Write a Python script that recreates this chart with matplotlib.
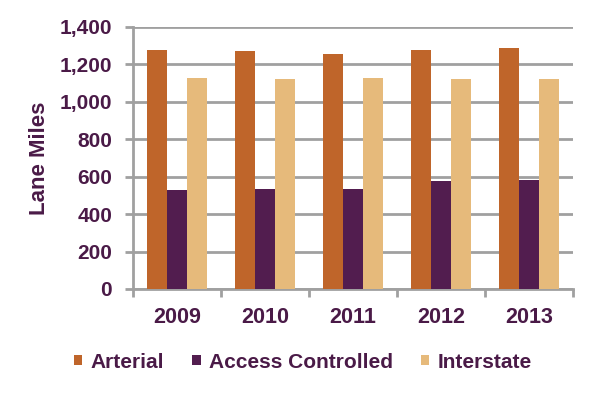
import numpy as np
import matplotlib.pyplot as plt

# data
years = ['2009', '2010', '2011', '2012', '2013']
arterial = [1277, 1271, 1256, 1277, 1288]
access_controlled = [529, 534, 534, 577, 582]
interstate = [1127, 1122, 1127, 1122, 1122]

series = [('Arterial', arterial, '#bf652a'),
          ('Access Controlled', access_controlled, '#521d4f'),
          ('Interstate', interstate, '#e6ba7b')]

txt = '#4a1a47'
grid = '#a0a0a0'
plt.rcParams['font.family'] = ['Liberation Sans', 'DejaVu Sans']
plt.rcParams['font.weight'] = 'bold'
plt.rcParams['axes.labelweight'] = 'bold'

fig = plt.figure(figsize=(6, 3.97), dpi=100)
ax = fig.add_axes([133/600, 108/397, 440/600, 262/397])

x = np.arange(len(years))
w = 0.227
for i, (name, vals, col) in enumerate(series):
    ax.bar(x + (i - 1) * w, vals, w, color=col, label=name, zorder=3)

ax.set_xlim(-0.5, len(years) - 0.5)
ax.set_ylim(0, 1400)
ax.set_yticks(range(0, 1401, 200))
ax.set_yticklabels([f'{v:,}' for v in range(0, 1401, 200)])
ax.yaxis.grid(True, color=grid, linewidth=2, zorder=0)

ax.set_xticks(np.arange(-0.5, len(years), 1))
ax.set_xticklabels([])
ax.set_xticks(x, minor=True)
ax.set_xticklabels(years, minor=True)
ax.tick_params(axis='x', which='minor', length=0, pad=13, labelsize=15.5, labelcolor=txt)
ax.tick_params(axis='x', which='major', length=6, width=2, color=grid, direction='out')
ax.tick_params(axis='y', length=6, width=2, color=grid, pad=9, labelsize=15, labelcolor=txt)

for s in ['top', 'right']:
    ax.spines[s].set_visible(False)
for s in ['left', 'bottom']:
    ax.spines[s].set_color(grid)
    ax.spines[s].set_linewidth(2)

ax.set_ylabel('Lane Miles', fontsize=16, color=txt, labelpad=7)

leg = fig.legend(loc='center', bbox_to_anchor=(303/600, 1 - 362/397), ncol=3, frameon=False,
                 fontsize=15, handlelength=0.4, handleheight=0.4, handletextpad=0.4,
                 columnspacing=1.35)
for t in leg.get_texts():
    t.set_color(txt)

fig.savefig('out.png', dpi=100)
